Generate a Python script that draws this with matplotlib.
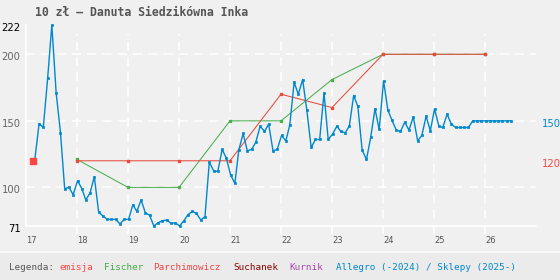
import numpy as np
import pandas as pd
import matplotlib
matplotlib.use("Agg")
import matplotlib.pyplot as plt
import matplotlib.transforms as mtransforms

# %% data
title = "10 zł – Danuta Siedzikówna Inka"

allegro_start = "2017-02-05"
allegro_vals = [121, 148, 145, 182, 222, 171, 141, 99, 100, 94.5, 105, 99, 90.5, 96, 108,
                81.5, 78.5, 76, 76, 76, 72.5, 76, 76, 87, 82, 90.5, 81, 79, 71, 73.5,
                75, 75.5, 73, 73.5, 71, 75, 79.5, 82, 80.5, 75.5, 78, 119, 112.5, 112, 128.5,
                122, 109.5, 103, 128, 140.5, 127.5, 128.5, 134, 146, 142, 147.5, 127.5, 128.5, 139,
                135, 147, 179, 170, 181, 158, 130, 136, 136, 171, 136, 140, 146, 142, 141,
                146, 169, 161, 128, 121, 137.5, 159, 143.5, 180, 158, 150.5, 143, 142, 149,
                143, 153, 135, 139, 153.5, 142.5, 159, 146, 145, 155, 147.5, 145, 145, 145,
                145, 150, 150, 150, 150, 150, 150, 150, 150, 150, 150]

cat_years = [18, 19, 20, 21, 22, 23, 24, 25, 26]
parchimowicz = [120, 120, 120, 120, 170, 160, 200, 200, 200]
fischer = [121, 100, 100, 150, 150, 181, 200, 200, 200]

emisja_x = [17.14]
emisja_val = [120]

year_ticks = [17, 18, 19, 20, 21, 22, 23, 24, 25, 26]
grid_vals = [100, 150, 200]

legend_items = [("Legenda:", "#555555"), ("emisja", "#ff4444"), ("Fischer", "#44aa44"),
                ("Parchimowicz", "#ee4444"), ("Suchanek", "#880000"), ("Kurnik", "#aa44aa"),
                ("Allegro (-2024) / Sklepy (2025-)", "#0088cc")]
legend_px = [9, 60, 104, 153, 233, 289, 336]

# %% derived
dates = pd.date_range(allegro_start, periods=len(allegro_vals), freq="MS") + pd.Timedelta(days=4)
allegro_x = (dates.year - 2000) + (dates.dayofyear - 1) / 365.25
ymin, ymax = min(allegro_vals), max(allegro_vals)

BG = "#f0f0f0"
BLUE = "#0088cc"
RED = "#e84c3d"
GREEN = "#4caf50"

W, H = 560, 280
fig = plt.figure(figsize=(W / 100, H / 100), dpi=100, facecolor=BG)
ax = fig.add_axes([26 / W, 1 - 226 / H, (536 - 26) / W, (226 - 25) / H])
ax.set_facecolor(BG)
ax.set_xlim(17, 27)
ax.set_ylim(ymin, ymax)
for s in ax.spines.values():
    s.set_visible(False)
ax.set_xticks([])
ax.set_yticks([])

# legend strip
fig.patches.append(plt.Rectangle((0, 0), 1, 27 / H, transform=fig.transFigure,
                                 facecolor="#ebebeb", edgecolor="none", zorder=0))
fig.patches.append(plt.Rectangle((0, 27 / H), 1, 2 / H, transform=fig.transFigure,
                                 facecolor="#f8f8f8", edgecolor="none", zorder=0))

# grid
for v in grid_vals:
    ax.plot([17, 27], [v, v], color="white", lw=1.1, dashes=(6, 4), zorder=1)
for yr in year_ticks[1:]:
    ax.plot([yr, yr], [ymin - 6, ymax - 7], color="white", lw=1.1, dashes=(6, 4),
            zorder=1, clip_on=False)
ax.plot([17, 27], [ymin, ymin], color="white", lw=1.2, zorder=1, clip_on=False)
ax.plot([17, 17], [ymin, ymax], color="white", lw=1.2, zorder=1, clip_on=False)

# series
ax.plot(cat_years, fischer, color=GREEN, lw=0.75, marker="s", ms=2.0, zorder=3)
ax.plot(cat_years, parchimowicz, color=RED, lw=0.75, marker="s", ms=2.0, zorder=3)
ax.plot(allegro_x, allegro_vals, color=BLUE, lw=1.0, marker="s", ms=1.9, mew=0.5,
        zorder=4, clip_on=False)
ax.plot(emisja_x, emisja_val, color="#ff4444", marker="s", ms=4.2, ls="none", zorder=5)

# y labels
down = mtransforms.ScaledTranslation(0, -3 / 100, fig.dpi_scale_trans)
ytr = ax.get_yaxis_transform() + down
for v in [ymin] + grid_vals + [ymax]:
    col = "black" if v in (ymin, ymax) else "#666666"
    ax.text(-5.5 / 510, v, f"{v:g}", transform=ytr, ha="right", va="center",
            fontsize=7.2, color=col, family="DejaVu Sans")

# right labels (last values)
ax.text(1 + 6 / 510, allegro_vals[-1], f"{allegro_vals[-1]:g}", transform=ytr,
        ha="left", va="center", fontsize=7.2, color=BLUE)
ax.text(1 + 6 / 510, emisja_val[0], f"{emisja_val[0]:g}", transform=ytr,
        ha="left", va="center", fontsize=7.2, color="#ff4444")

# x labels
for yr in year_ticks:
    ax.text(yr, -10 / 201, f"{yr}", transform=ax.get_xaxis_transform(), ha="left",
            va="top", fontsize=6, color="#555555")

# title
fig.text(35 / W, 1 - 12 / H, title, ha="left", va="center", fontsize=8.3,
         fontweight="bold", color="#555555", family="DejaVu Sans Mono")

# legend
for (txt, col), px in zip(legend_items, legend_px):
    fig.text(px / W, 1 - 267 / H, txt, ha="left", va="center", fontsize=6.7,
             color=col, family="DejaVu Sans Mono")

fig.savefig("out.png", dpi=100, facecolor=BG)
